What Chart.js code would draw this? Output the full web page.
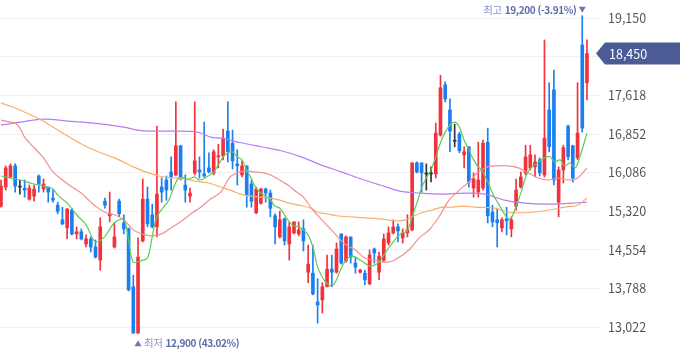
<!DOCTYPE html>
<html lang="ko">
<head>
  <meta charset="UTF-8" />
  <title>일봉 차트</title>
  <script src="https://cdn.jsdelivr.net/npm/chart.js"></script>
  <style>
    html, body { margin: 0; padding: 0; background: #fff; }
    #wrap { position: relative; width: 680px; height: 358px; }
  </style>
</head>
<body>
<div id="wrap"><canvas id="priceChart"></canvas></div>

<script>
  // daily candles, oldest first
  const opens  = [15420,15800,16000,16220,15800,15780,15560,15620,16020,15760,15800,15580,15440,15150,14990,15340,14870,14910,14670,14770,14610,14350,15520,15230,14610,15520,15090,14970,13820,12900,14730,15560,15250,15010,15800,15940,16100,16040,16620,15840,15620,16080,16140,16060,16180,16080,16400,16420,16910,16670,16260,16040,16220,15860,15290,15480,15760,15680,15230,14810,15170,14670,14890,14870,14970,14110,14090,13520,13560,13820,14170,14110,14870,14330,14810,14290,14110,14090,13880,14570,14110,14350,14690,14890,15010,14790,14890,14950,16280,16280,16060,16060,16060,16830,17830,17330,16710,16850,16440,16600,15780,15700,15780,16690,15300,15150,14990,15170,14970,15420,15800,16080,16180,16200,16340,16040,17330,17730,15500,16140,17010,16620,16380,18620,17870];
  const highs  = [15940,16220,16260,16260,15940,15940,15840,15840,16040,15960,15800,15740,15500,15400,15380,15380,15010,14970,14850,14810,14750,15190,15580,15700,15090,15560,15250,14990,14050,14790,15960,15800,15460,17010,15980,16020,16400,17490,16630,16040,15780,17490,16400,17090,16480,16540,16650,16950,17490,16930,16540,16320,16220,15940,15800,15780,15780,15740,15270,15320,15190,15110,15110,15110,15150,14650,14650,13980,13900,14450,14450,14690,14870,14830,14810,14410,14170,14150,14550,14590,14510,14870,15010,15150,15070,14970,15250,16280,16300,16280,16260,16200,17070,18020,17890,17550,17050,16890,16600,16600,16080,16690,16730,16970,15440,15380,15190,15400,15210,15960,16100,16630,16630,16440,16380,18720,17870,18120,16200,16630,17030,16630,17870,19200,18720];
  const lows   = [15400,15740,15980,15700,15660,15600,15540,15520,15700,15700,15500,15500,15270,15050,14770,14850,14770,14750,14610,14510,14390,14150,15380,15110,14590,15210,14870,13740,12900,12900,14710,15010,14990,14810,15500,15540,15740,16020,15940,15500,15500,16040,15980,16000,16080,16040,16180,16340,16300,16160,15840,16000,15400,15400,15270,15460,15500,15210,14670,14790,14650,14350,14870,14830,14530,13900,13660,13100,13300,13820,13820,14090,14270,14310,14290,14090,14090,13860,13860,14290,13960,14310,14650,14870,14710,14690,14810,14930,16080,15700,15740,15900,15980,16810,17490,16500,16600,16480,16180,15800,15600,15600,15740,15090,15010,14610,14910,14850,14810,15340,15780,16040,16140,16000,16020,16000,16500,15840,15210,15880,16340,15900,16340,16890,17530];
  const closes = [15820,16180,16220,15820,15800,15740,15780,15760,15860,15860,15700,15540,15320,15070,15360,14870,14910,14770,14770,14610,14410,15010,15440,15270,14810,15270,14970,13760,12900,14410,15560,15070,15010,15660,15700,15740,16000,16620,15980,15740,15680,16320,16100,16020,16100,16500,16420,16770,16500,16320,16220,16220,15640,15520,15760,15760,15680,15380,15010,15150,14730,15010,15110,14950,14730,14270,13680,13460,13820,14170,14110,14570,14290,14810,14410,14210,14150,13960,14450,14490,14430,14770,14890,15010,14930,14890,14950,16280,16100,16080,16060,16060,16870,17770,17550,16910,16710,16520,16500,15900,15960,15940,16670,15230,15110,15090,15150,15130,15150,15740,16000,16400,16440,16300,16080,16770,16600,15940,16140,16580,16400,15980,16870,16970,18450];

  // moving averages, sampled along the candle index
  const ma5At   = [0,4,7,9,11,12,14,16,18,20,22,24,26,27,28,30,31,32,33,35.5,37.6,39.7,41,42,43.5,45,46,47,48,49,50,51,52,53,54,55,56,57,58,59,60,61,62,63,64,65,66,67,68,69,70,71,72,73,74,75,76,77,78,79,80,81,82,83,84,85,86,87,88,89,90,91,92,93,94,95,96,97,98,99,100,101,101.7,103.1,104.2,105.2,106.3,107.3,108,109.1,110.2,111.2,112.3,113.3,114.4,115.5,116.2,117.2,118.3,119.3,120.4,121.5,122.5,124];
  const ma5     = [16020,15940,15860,15820,15760,15640,15480,15250,15050,14710,14820,15090,15150,14750,14310,14350,14390,14810,15210,15540,15980,15960,16000,15940,16000,16100,16240,16400,16480,16500,16400,16340,16140,15960,15780,15680,15620,15540,15420,15380,15250,15110,15030,15010,14950,14850,14610,14210,14010,13880,13840,13960,14190,14350,14430,14410,14350,14290,14230,14250,14310,14450,14590,14710,14830,14890,14930,15210,15480,15780,15980,16140,16400,16680,16890,17030,17090,16990,16730,16540,16340,16200,16140,15880,15640,15480,15300,15170,15190,15440,15740,16040,16200,16260,16340,16400,16400,16300,16340,16220,16280,16180,16400,16870];
  const ma20At  = [0,2,3,4,5,7,9,11,13,15,17,19,20,22,24,26,28,30.5,32,34,36,38,40.5,42,44,46.5,48,49,51.5,53.5,55.5,57.5,60,61,62,64,66,68.5,70.5,72.5,75,77,79,82,84,86.3,88.5,90.6,92.7,94.8,97,99,101,103,105,107.3,109.5,111.6,113.7,115.8,118,120,122,124];
  const ma20    = [17130,17090,17070,16970,16790,16580,16380,16100,15940,15800,15680,15500,15420,15300,15250,15150,14950,14850,14830,14870,14990,15110,15290,15380,15540,15700,15940,16040,16120,16100,16080,16020,15880,15820,15740,15600,15340,15090,14890,14690,14550,14390,14350,14310,14390,14550,14790,14950,15210,15540,15740,15900,16100,16200,16220,16220,16180,16080,15980,15940,15980,15940,15980,16180];
  const ma60At  = [0,4,8.5,12.7,16.9,20,24,28.5,30.6,33.4,36.2,39,41,44,46.5,48.5,50.7,53,55,57,59,61,63,65.6,67,69,71,74,77,80,83.5,85.6,87,89,91,93.4,95.5,97.6,100.3,104.5,107.3,109.5,112.3,115.8,119.3,122,124];
  const ma60    = [17470,17330,17130,16890,16660,16520,16380,16180,16100,16020,15980,15960,15920,15880,15800,15740,15660,15620,15600,15580,15540,15480,15440,15380,15300,15270,15230,15210,15190,15170,15130,15150,15210,15290,15340,15400,15400,15420,15400,15380,15300,15290,15300,15340,15400,15440,15580];
  const ma120At = [0,4.2,9.2,14,19.7,26,28.9,31.7,36.7,41.6,44.4,46.6,50.8,55,59.3,63.5,67.7,72,76.2,80.2,84.4,88.7,92.9,98,102.3,106.5,110.8,115.7,120.6,124];
  const ma120   = [17030,17090,17150,17110,17070,16990,16930,16910,16910,16890,16790,16770,16680,16600,16520,16400,16240,16100,15960,15840,15720,15680,15660,15680,15660,15540,15480,15460,15480,15500];

  // price axis
  const tickValues = [13022,13788,14554,15320,16086,16852,17618,18384,19150];
  const yMin = 12764, yMax = 19513;

  const RED = '#f1323c', BLUE = '#1b80ef', DOJI = '#333333';
  const FONT = "'Noto Sans CJK KR', 'Noto Sans', sans-serif";
  const fmt = v => v.toLocaleString('en-US');

  const candleColors = closes.map((c, i) => c > opens[i] ? RED : (c < opens[i] ? BLUE : DOJI));
  const pts = (xs, ys) => xs.map((x, i) => ({ x: x, y: ys[i] }));

  function maLine(xs, ys, color) {
    return {
      type: 'line', data: pts(xs, ys), borderColor: color, borderWidth: 1.2,
      pointRadius: 0, tension: 0.35, fill: false, order: 0
    };
  }

  // high/low markers and the last price tag
  const markers = {
    id: 'markers',
    afterDraw(chart) {
      const { ctx, chartArea } = chart;
      const xs = chart.scales.x, ys = chart.scales.y;
      const hi = Math.max(...highs), lo = Math.min(...lows);
      const hiIdx = highs.indexOf(hi), loIdx = lows.lastIndexOf(lo);
      const last = closes[closes.length - 1];
      ctx.save();
      ctx.textBaseline = 'middle';
      if ('letterSpacing' in ctx) ctx.letterSpacing = '-0.4px';

      // top: 최고
      const hx = xs.getPixelForValue(hiIdx), hy = ys.getPixelForValue(hi) - 6;
      ctx.fillStyle = '#6878b4';
      ctx.beginPath();
      ctx.moveTo(hx - 3.5, hy - 3); ctx.lineTo(hx + 3.5, hy - 3); ctx.lineTo(hx, hy + 3);
      ctx.closePath(); ctx.fill();
      const hiTxt = fmt(hi) + ' (' + ((last - hi) / hi * 100).toFixed(2) + '%)';
      ctx.textAlign = 'right';
      ctx.font = 'bold 10px ' + FONT;
      ctx.fillStyle = '#5b6ca8';
      ctx.fillText(hiTxt, hx - 6, hy);
      const w1 = ctx.measureText(hiTxt).width;
      ctx.font = '10.5px ' + FONT;
      ctx.fillStyle = '#8893c0';
      ctx.fillText('최고', hx - 9 - w1, hy);

      // bottom: 최저
      const lx = xs.getPixelForValue(loIdx), ly = ys.getPixelForValue(lo) + 10;
      ctx.fillStyle = '#6878b4';
      ctx.beginPath();
      ctx.moveTo(lx - 3.5, ly + 3); ctx.lineTo(lx + 3.5, ly + 3); ctx.lineTo(lx, ly - 3);
      ctx.closePath(); ctx.fill();
      ctx.textAlign = 'left';
      ctx.font = '10.5px ' + FONT;
      ctx.fillStyle = '#8893c0';
      ctx.fillText('최저', lx + 6, ly);
      const w2 = ctx.measureText('최저').width;
      ctx.font = 'bold 10px ' + FONT;
      ctx.fillStyle = '#5b6ca8';
      ctx.fillText(fmt(lo) + ' (' + ((last - lo) / lo * 100).toFixed(2) + '%)', lx + 9 + w2, ly);
      if ('letterSpacing' in ctx) ctx.letterSpacing = '0px';

      // last price tag
      const yc = ys.getPixelForValue(last);
      const tx = chartArea.right + 4;
      ctx.fillStyle = '#4a5b96';
      ctx.beginPath();
      ctx.moveTo(tx, yc);
      ctx.lineTo(tx + 9, yc - 11);
      ctx.lineTo(chart.width, yc - 11);
      ctx.lineTo(chart.width, yc + 11);
      ctx.lineTo(tx + 9, yc + 11);
      ctx.closePath(); ctx.fill();
      ctx.fillStyle = '#ffffff';
      ctx.font = '12.5px ' + FONT;
      ctx.fillText(fmt(last), tx + 13, yc + 0.5);
      ctx.restore();
    }
  };

  new Chart(document.getElementById('priceChart'), {
    type: 'bar',
    data: {
      datasets: [
        maLine(ma5At, ma5, '#5fca5b'),
        maLine(ma20At, ma20, '#f58f8f'),
        maLine(ma60At, ma60, '#f7ae6c'),
        maLine(ma120At, ma120, '#b67ff1'),
        {
          label: 'body',
          data: opens.map((o, i) => ({ x: i, y: [o, closes[i]] })),
          backgroundColor: candleColors,
          barThickness: 3, minBarLength: 1, grouped: false, order: 1
        },
        {
          label: 'wick',
          data: highs.map((h, i) => ({ x: i, y: [lows[i], h] })),
          backgroundColor: candleColors,
          barThickness: 1, grouped: false, order: 2
        }
      ]
    },
    options: {
      responsive: true,
      maintainAspectRatio: false,
      animation: false,
      events: [],
      layout: { padding: { top: 0, right: 0, bottom: 18, left: 0 } },
      plugins: { legend: { display: false }, tooltip: { enabled: false } },
      scales: {
        x: {
          type: 'linear', display: false, offset: false,
          min: -0.21, max: 125.06,
          grid: { offset: false }
        },
        y: {
          position: 'right',
          min: yMin, max: yMax,
          afterBuildTicks: s => { s.ticks = tickValues.map(v => ({ value: v })); },
          afterFit: s => { s.width = 88; s.paddingTop = 0; s.paddingBottom = 0; },
          ticks: {
            padding: 7, color: '#555',
            font: { size: 12.5, family: FONT },
            callback: v => v === 18384 ? '' : fmt(v)
          },
          grid: { color: '#eff0f5', tickLength: 9, drawTicks: true },
          border: { display: false }
        }
      }
    },
    plugins: [markers]
  });
</script>
</body>
</html>
